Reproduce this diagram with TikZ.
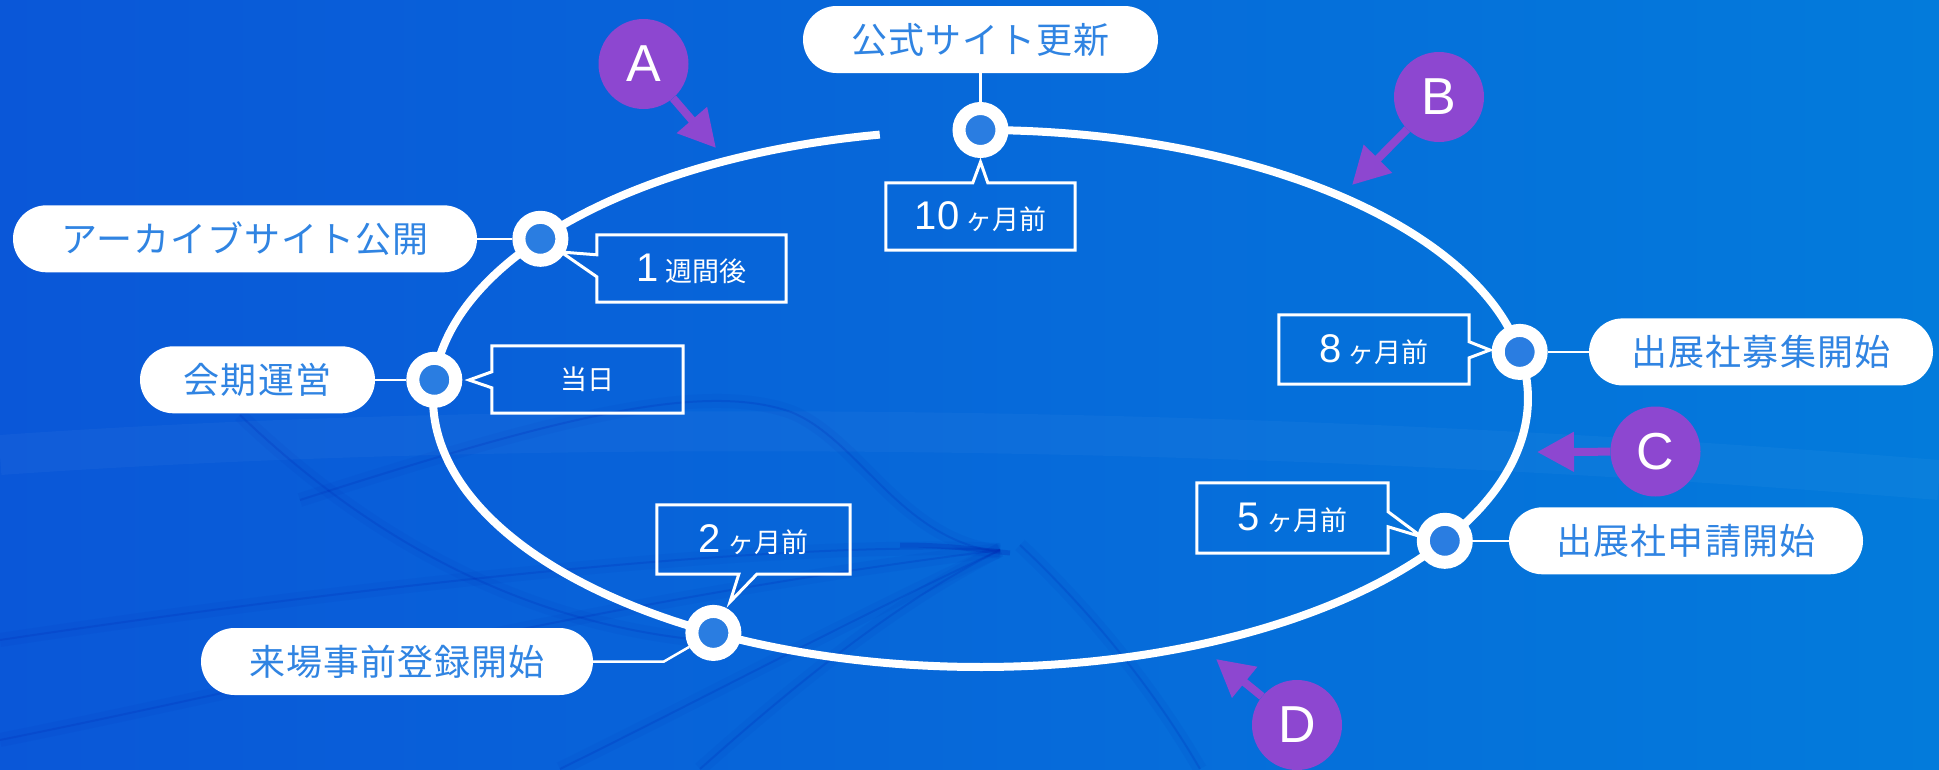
\documentclass[tikz,border=0pt]{standalone}
\usepackage{fontspec}
\setmainfont{Noto Sans CJK JP}
\newfontfamily\lat{Liberation Sans}
\usetikzlibrary{arrows.meta,calc}
\definecolor{bgL}{HTML}{0A57D8}
\definecolor{bgR}{HTML}{037BDB}
\definecolor{pilltext}{HTML}{3084E2}
\definecolor{dotblue}{HTML}{2A7DE1}
\definecolor{purp}{HTML}{8D47D0}
\definecolor{streak}{HTML}{0022B0}
\newcommand{\dg}[1]{{\lat\fontsize{40}{40}\selectfont #1}}
\newcommand{\jp}[1]{{\fontsize{27}{27}\selectfont #1}}
\begin{document}
\begin{tikzpicture}[x=1pt,y=-1pt,
  ring/.style={draw=white, line width=8pt},
  marker/.style={circle, draw=white, line width=13pt, fill=dotblue, minimum size=43pt, inner sep=0pt},
  pill/.style={rectangle, fill=white, rounded corners=33.5pt, minimum height=67pt, inner sep=0pt, text=pilltext, font=\fontsize{36}{36}\selectfont\addfontfeatures{LetterSpace=3}},
  conn/.style={draw=white, line width=2.5pt},
  cbox/.style={rectangle, minimum height=68pt, inner sep=0pt, text=white},
  callline/.style={draw=white, line width=3pt, line join=miter},
  lab/.style={circle, fill=purp, minimum size=90pt, inner sep=0pt, text=white, font=\lat\fontsize{52}{52}\selectfont},
  parrow/.style={draw=purp, line width=8pt, -{Triangle[length=37pt,width=38pt]}},
  sdark/.style={draw=streak, line width=2pt, opacity=0.18},
  swide/.style={draw=streak, line width=14pt, opacity=0.06},
  slight/.style={draw=white, line width=40pt, opacity=0.03}
]
\useasboundingbox (0,0) rectangle (1939,769);
\shade[left color=bgL, right color=bgR] (0,0) rectangle (1939,769);
% background streaks
\begin{scope}
\clip (0,0) rectangle (1939,769);
\draw[slight] (0,455) .. controls (500,420) and (1200,420) .. (1939,480);
\foreach \s in {sdark,swide}{
\draw[\s] (300,500) .. controls (550,420) and (700,380) .. (791,412) .. controls (860,440) and (900,540) .. (1000,552);
\draw[\s] (0,640) .. controls (400,580) and (800,540) .. (1000,550);
\draw[\s] (1000,550) .. controls (850,620) and (700,700) .. (560,769);
\draw[\s] (700,769) .. controls (800,680) and (900,600) .. (1000,550);
\draw[\s] (1020,545) .. controls (1100,620) and (1160,700) .. (1200,769);
\draw[\s] (240,415) .. controls (350,520) and (500,620) .. (700,640);
\draw[\s] (0,740) .. controls (300,680) and (600,600) .. (1000,550);
}
\draw[draw=streak, line width=5pt, opacity=0.25] (900,545) .. controls (950,545) and (980,550) .. (1010,553);
\end{scope}
% main ring
\draw[ring] plot[variable=\t, domain=-450:-100.6, samples=240, smooth] ({980.5+547.5*cos(\t)},{398.5+268.5*sin(\t)});
% markers
\node[marker] (m1) at (980.5,130) {};
\node[marker] (m2) at (540.4,238.8) {};
\node[marker] (m3) at (434.3,379.8) {};
\node[marker] (m4) at (713.4,632.9) {};
\node[marker] (m5) at (1444.8,540.8) {};
\node[marker] (m6) at (1519.7,351.9) {};
% pills
\node[pill, minimum width=355pt] (p1) at (980.5,39.5) {公式サイト更新};
\node[pill, minimum width=464pt] (p2) at (245,238.8) {アーカイブサイト公開};
\node[pill, minimum width=235pt] (p3) at (257.5,379.8) {会期運営};
\node[pill, minimum width=392pt] (p4) at (397,661.5) {来場事前登録開始};
\node[pill, minimum width=354pt] (p5) at (1686,540.8) {出展社申請開始};
\node[pill, minimum width=344pt] (p6) at (1761,351.9) {出展社募集開始};
% connectors
\coordinate (k4) at (664,661.5);
\draw[conn] (p1) -- (m1);
\draw[conn] (p2) -- (m2);
\draw[conn] (p3) -- (m3);
\draw[conn] (p4.east) -- (k4) -- (m4);
\draw[conn] (p5) -- (m5);
\draw[conn] (p6) -- (m6);
% callouts
\node[cbox, minimum width=189pt, minimum height=67pt] (c1) at (980.5,216.5) {\dg{10}\hspace{6pt}\jp{ヶ月前}};
\coordinate (a1) at (980.5,162);
\draw[callline] (c1.north west) -- ($(c1.north west)+(87,0)$) -- (a1) -- ($(c1.north west)+(102,0)$) -- (c1.north east) -- (c1.south east) -- (c1.south west) -- cycle;

\node[cbox, minimum width=189pt, minimum height=67pt] (c2) at (691.5,268.5) {\dg{1}\hspace{6pt}\jp{週間後}};
\coordinate (a2) at (561,252);
\draw[callline] (c2.north west) -- (c2.north east) -- (c2.south east) -- (c2.south west) -- ($(c2.north west)+(0,42)$) -- (a2) -- ($(c2.north west)+(0,20)$) -- cycle;

\node[cbox, minimum width=191pt, minimum height=67pt] (c3) at (587.5,379.5) {\jp{当日}};
\coordinate (a3) at (469,380);
\draw[callline] (c3.north west) -- (c3.north east) -- (c3.south east) -- (c3.south west) -- ($(c3.north west)+(0,42)$) -- (a3) -- ($(c3.north west)+(0,26)$) -- cycle;

\node[cbox, minimum width=190pt, minimum height=69pt] (c4) at (1374,349.5) {\dg{8}\hspace{6pt}\jp{ヶ月前}};
\coordinate (a4) at (1490,350);
\draw[callline] (c4.north west) -- (c4.north east) -- ($(c4.north east)+(0,27)$) -- (a4) -- ($(c4.north east)+(0,43)$) -- (c4.south east) -- (c4.south west) -- cycle;

\node[cbox, minimum width=191pt, minimum height=70pt] (c5) at (1292.5,518) {\dg{5}\hspace{6pt}\jp{ヶ月前}};
\coordinate (a5) at (1422,537);
\draw[callline] (c5.north west) -- (c5.north east) -- ($(c5.north east)+(0,29)$) -- (a5) -- ($(c5.north east)+(0,44)$) -- (c5.south east) -- (c5.south west) -- cycle;

\node[cbox, minimum width=193pt, minimum height=69pt] (c6) at (753.5,539.5) {\dg{2}\hspace{6pt}\jp{ヶ月前}};
\coordinate (a6) at (730,602);
\draw[callline] (c6.north west) -- (c6.north east) -- (c6.south east) -- ($(c6.south west)+(100,0)$) -- (a6) -- ($(c6.south west)+(82,0)$) -- (c6.south west) -- cycle;
% letter labels
\node[lab] (la) at (643.5,64) {A};
\node[lab] (lb) at (1439,97) {B};
\node[lab] (lc) at (1655.5,451.5) {C};
\node[lab] (ld) at (1297,725) {D};
\coordinate (ta) at (716,148);
\coordinate (tb) at (1352,185);
\coordinate (tc) at (1537,452);
\coordinate (td) at (1216,659);
\draw[parrow] (la) -- (ta);
\draw[parrow] (lb) -- (tb);
\draw[parrow] (lc) -- (tc);
\draw[parrow] (ld) -- (td);
\end{tikzpicture}
\end{document}
